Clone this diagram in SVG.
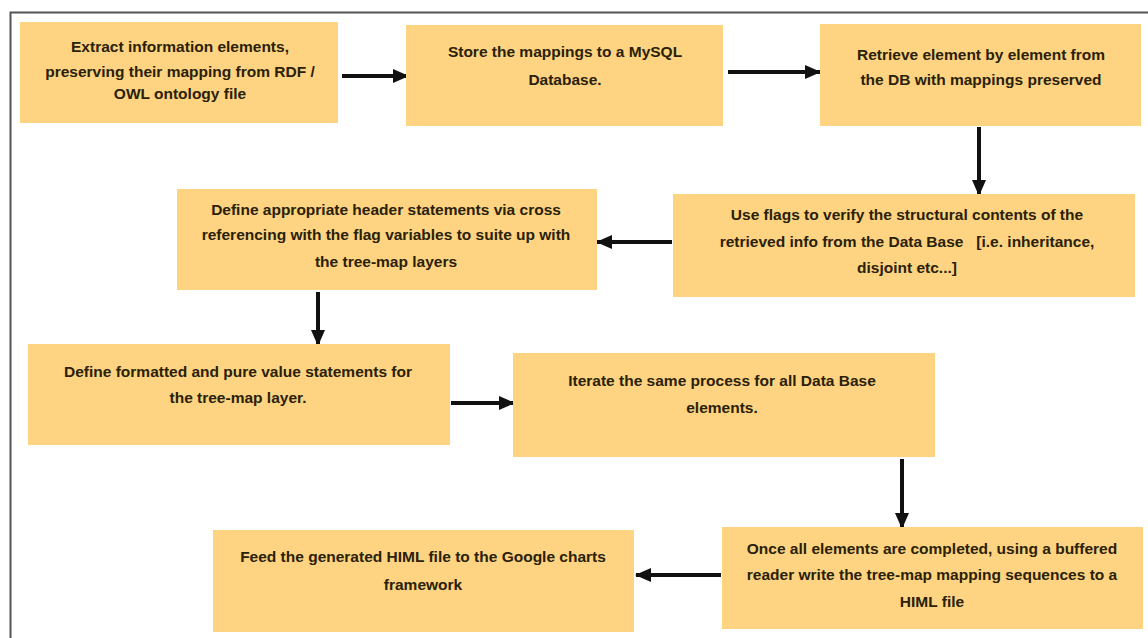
<svg xmlns="http://www.w3.org/2000/svg" width="1148" height="638" viewBox="0 0 1148 638">
<defs>
<marker id="ah" markerUnits="userSpaceOnUse" markerWidth="18" markerHeight="18" refX="15" refY="9" orient="auto">
<path d="M0,2 L16,9 L0,16 Z" fill="#111"/>
</marker>
<style>
.box{fill:#FED482;}
.t{font-family:"Liberation Sans",Arial,sans-serif;font-weight:bold;font-size:15.5px;fill:#2a2108;text-anchor:middle;}
.c{stroke:#111;stroke-width:4;fill:none;marker-end:url(#ah);}
</style>
</defs>
<rect width="1148" height="638" fill="#ffffff"/>
<path d="M10.5,638 V12.5 H1148" fill="none" stroke="#555" stroke-width="2"/>
<g id="connectors">
<path class="c" d="M342,76 H408"/>
<path class="c" d="M728,72 H820"/>
<path class="c" d="M979,127 V195"/>
<path class="c" d="M672,242 H597"/>
<path class="c" d="M318,292 V345"/>
<path class="c" d="M451,403 H514"/>
<path class="c" d="M902,459 V528"/>
<path class="c" d="M721,575 H636"/>
</g>
<g id="n1"><rect class="box" x="20" y="22" width="318" height="101"/>
<text class="t" x="180" y="52">Extract information elements,</text>
<text class="t" x="180" y="77">preserving their mapping from RDF /</text>
<text class="t" x="180" y="99">OWL ontology file</text></g>
<g id="n2"><rect class="box" x="406" y="25" width="317" height="101"/>
<text class="t" x="565" y="57">Store the mappings to a MySQL</text>
<text class="t" x="565" y="85">Database.</text></g>
<g id="n3"><rect class="box" x="820" y="24" width="321" height="102"/>
<text class="t" x="981" y="60">Retrieve element by element from</text>
<text class="t" x="981" y="85">the DB with mappings preserved</text></g>
<g id="n4"><rect class="box" x="673" y="194" width="462" height="103"/>
<text class="t" x="907" y="220">Use flags to verify the structural contents of the</text>
<text class="t" x="907" y="247" style="white-space:pre">retrieved info from the Data Base   [i.e. inheritance,</text>
<text class="t" x="907" y="273">disjoint etc...]</text></g>
<g id="n5"><rect class="box" x="177" y="189" width="420" height="101"/>
<text class="t" x="386" y="215">Define appropriate header statements via cross</text>
<text class="t" x="386" y="240">referencing with the flag variables to suite up with</text>
<text class="t" x="386" y="267">the tree-map layers</text></g>
<g id="n6"><rect class="box" x="28" y="344" width="422" height="101"/>
<text class="t" x="238" y="377">Define formatted and pure value statements for</text>
<text class="t" x="238" y="403">the tree-map layer.</text></g>
<g id="n7"><rect class="box" x="513" y="353" width="422" height="104"/>
<text class="t" x="722" y="386">Iterate the same process for all Data Base</text>
<text class="t" x="722" y="413">elements.</text></g>
<g id="n8"><rect class="box" x="722" y="527" width="421" height="102"/>
<text class="t" x="932" y="554">Once all elements are completed, using a buffered</text>
<text class="t" x="932" y="580">reader write the tree-map mapping sequences to a</text>
<text class="t" x="932" y="607">HIML file</text></g>
<g id="n9"><rect class="box" x="213" y="530" width="421" height="102"/>
<text class="t" x="423" y="562">Feed the generated HIML file to the Google charts</text>
<text class="t" x="423" y="590">framework</text></g>
</svg>
